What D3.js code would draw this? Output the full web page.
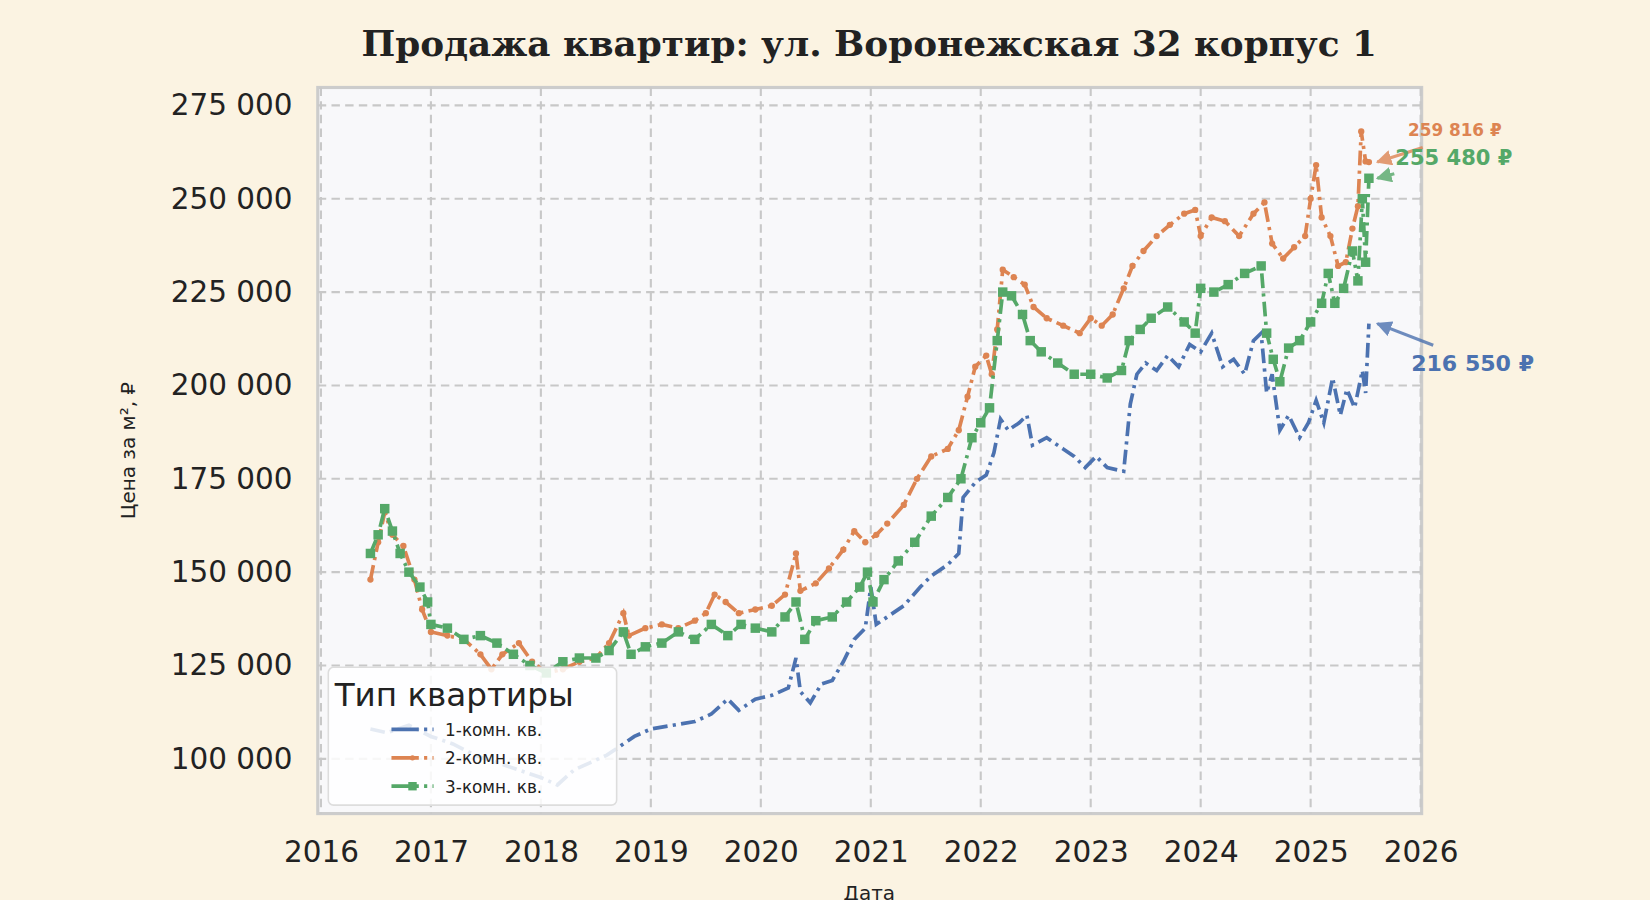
<!DOCTYPE html>
<html><head><meta charset="utf-8">
<script src="https://cdn.jsdelivr.net/npm/d3@7"></script>
<style>body{margin:0;background:#fbf3e2;}svg{display:block;}</style>
</head><body><svg id="c" width="1650" height="900" viewBox="0 0 1568 855"></svg>
<script>
// данные: [год (дробный), цена за м²]
const oneRoom = [[2016.45,108000],[2016.6,107000],[2016.8,109000],[2017.0,106000],[2017.2,104000],[2017.4,101000],[2017.6,99000],[2017.8,97000],[2018.0,95000],[2018.15,93000],[2018.3,97000],[2018.45,99000],[2018.6,101000],[2018.75,104000],[2018.85,106000],[2019.0,108000],[2019.2,109000],[2019.4,110000],[2019.55,112000],[2019.7,116000],[2019.8,113000],[2019.95,116000],[2020.1,117000],[2020.25,119000],[2020.32,127000],[2020.36,118000],[2020.45,115000],[2020.55,120000],[2020.65,121000],[2020.75,126000],[2020.85,132000],[2020.95,135000],[2021.0,146000],[2021.05,136000],[2021.15,138000],[2021.3,141000],[2021.45,146000],[2021.55,149000],[2021.7,152000],[2021.8,155000],[2021.84,170000],[2021.95,174000],[2022.05,176000],[2022.12,182000],[2022.18,191000],[2022.25,188000],[2022.35,190000],[2022.42,192000],[2022.47,184000],[2022.6,186000],[2022.75,183000],[2022.85,181000],[2022.95,178000],[2023.05,181000],[2023.15,178000],[2023.3,177000],[2023.36,195000],[2023.42,203000],[2023.5,206000],[2023.6,204000],[2023.7,208000],[2023.8,205000],[2023.9,211000],[2024.0,209000],[2024.1,214000],[2024.2,205000],[2024.3,207000],[2024.4,203000],[2024.48,212000],[2024.55,214000],[2024.6,198000],[2024.65,203000],[2024.72,188000],[2024.8,192000],[2024.9,186000],[2024.98,190000],[2025.05,196000],[2025.12,190000],[2025.2,202000],[2025.27,192000],[2025.33,199000],[2025.4,194000],[2025.47,204000],[2025.5,198000],[2025.53,216550]];
const twoRoom = [[2016.45,148000],[2016.52,158000],[2016.58,166000],[2016.65,160000],[2016.75,157000],[2016.85,148000],[2016.92,140000],[2017.0,134000],[2017.15,133000],[2017.3,132000],[2017.45,128000],[2017.55,124000],[2017.65,128000],[2017.8,131000],[2017.92,126000],[2018.05,123000],[2018.2,124000],[2018.35,126000],[2018.5,127000],[2018.62,131000],[2018.75,139000],[2018.8,133000],[2018.95,135000],[2019.1,136000],[2019.25,135000],[2019.4,137000],[2019.5,139000],[2019.58,144000],[2019.68,142000],[2019.8,139000],[2019.95,140000],[2020.1,141000],[2020.22,144000],[2020.32,155000],[2020.36,145000],[2020.5,147000],[2020.62,151000],[2020.75,156000],[2020.85,161000],[2020.95,158000],[2021.05,160000],[2021.15,163000],[2021.3,168000],[2021.42,175000],[2021.55,181000],[2021.7,183000],[2021.8,188000],[2021.88,197000],[2021.95,205000],[2022.05,208000],[2022.1,203000],[2022.15,215000],[2022.2,231000],[2022.3,229000],[2022.4,227000],[2022.48,221000],[2022.6,218000],[2022.75,216000],[2022.9,214000],[2023.0,218000],[2023.1,216000],[2023.2,219000],[2023.3,226000],[2023.38,232000],[2023.48,236000],[2023.6,240000],[2023.72,243000],[2023.85,246000],[2023.95,247000],[2024.0,240000],[2024.1,245000],[2024.22,244000],[2024.35,240000],[2024.48,246000],[2024.58,249000],[2024.65,238000],[2024.75,234000],[2024.85,237000],[2024.95,240000],[2025.0,250000],[2025.05,259000],[2025.1,245000],[2025.18,240000],[2025.25,232000],[2025.32,233000],[2025.38,242000],[2025.43,248000],[2025.46,268000],[2025.5,260000],[2025.53,259816]];
const threeRoom = [[2016.45,155000],[2016.52,160000],[2016.58,167000],[2016.65,161000],[2016.72,155000],[2016.8,150000],[2016.9,146000],[2016.97,142000],[2017.0,136000],[2017.15,135000],[2017.3,132000],[2017.45,133000],[2017.6,131000],[2017.75,128000],[2017.9,125000],[2018.05,123000],[2018.2,126000],[2018.35,127000],[2018.5,127000],[2018.62,129000],[2018.75,134000],[2018.82,128000],[2018.95,130000],[2019.1,131000],[2019.25,134000],[2019.4,132000],[2019.55,136000],[2019.7,133000],[2019.82,136000],[2019.95,135000],[2020.1,134000],[2020.22,138000],[2020.32,142000],[2020.4,132000],[2020.5,137000],[2020.65,138000],[2020.78,142000],[2020.9,146000],[2020.97,150000],[2021.02,142000],[2021.12,148000],[2021.25,153000],[2021.4,158000],[2021.55,165000],[2021.7,170000],[2021.82,175000],[2021.92,186000],[2022.0,190000],[2022.08,194000],[2022.15,212000],[2022.2,225000],[2022.28,224000],[2022.38,219000],[2022.45,212000],[2022.55,209000],[2022.7,206000],[2022.85,203000],[2023.0,203000],[2023.15,202000],[2023.28,204000],[2023.35,212000],[2023.45,215000],[2023.55,218000],[2023.7,221000],[2023.85,217000],[2023.95,214000],[2024.0,226000],[2024.12,225000],[2024.25,227000],[2024.4,230000],[2024.55,232000],[2024.6,214000],[2024.66,207000],[2024.72,201000],[2024.8,210000],[2024.9,212000],[2025.0,217000],[2025.1,222000],[2025.16,230000],[2025.22,222000],[2025.3,226000],[2025.38,236000],[2025.43,228000],[2025.47,250000],[2025.5,233000],[2025.53,255480]];

const seriesNames = ['1-комн. кв.', '2-комн. кв.', '3-комн. кв.'];
const seriesColors = ['#4c72b0', '#dd8452', '#55a868'];
const yTicks = [100000, 125000, 150000, 175000, 200000, 225000, 250000, 275000];
const xTicks = [2016, 2017, 2018, 2019, 2020, 2021, 2022, 2023, 2024, 2025, 2026];

const svg = d3.select('#c');
const L = 302, R = 1351, T = 83, B = 773;
const x = d3.scaleLinear().domain([2016, 2026]).range([305, 1350]);
const y = d3.scaleLinear().domain([100000, 275000]).range([721, 100]);
const fmt = v => d3.format(',')(v).replace(/,/g, ' ');

svg.append('rect').attr('width', 1568).attr('height', 855).attr('fill', '#fbf3e2');
svg.append('text').attr('x', 826).attr('y', 53).attr('text-anchor', 'middle')
    .style('font', 'bold 34px "DejaVu Serif"').attr('fill', '#222')
    .text('Продажа квартир: ул. Воронежская 32 корпус 1');

svg.append('rect').attr('x', L).attr('y', T).attr('width', R - L).attr('height', B - T)
    .attr('fill', '#f8f8fa').attr('stroke', '#cccccc').attr('stroke-width', 3);

// сетка
const grid = svg.append('g').attr('stroke', '#c8c8c8').attr('stroke-width', 2).attr('stroke-dasharray', '8,5');
xTicks.forEach(t => grid.append('line').attr('x1', x(t)).attr('x2', x(t)).attr('y1', T).attr('y2', B));
yTicks.forEach(t => grid.append('line').attr('x1', L).attr('x2', R).attr('y1', y(t)).attr('y2', y(t)));

const tickFont = '28px "DejaVu Sans"';
svg.append('g').attr('transform', `translate(0,${B})`)
    .call(d3.axisBottom(x).tickValues(xTicks).tickFormat(d3.format('d')).tickSize(0).tickPadding(26))
    .call(g => g.select('.domain').remove())
    .selectAll('text').style('font', tickFont).attr('fill', '#222');
svg.append('g').attr('transform', `translate(${L},0)`)
    .call(d3.axisLeft(y).tickValues(yTicks).tickFormat(fmt).tickSize(0).tickPadding(24))
    .call(g => g.select('.domain').remove())
    .selectAll('text').style('font', tickFont).attr('fill', '#222');

svg.append('text').attr('x', 826).attr('y', 855).attr('text-anchor', 'middle')
    .style('font', '19px "DejaVu Sans"').attr('fill', '#222').text('Дата');
svg.append('text').attr('transform', 'translate(128,428) rotate(-90)').attr('text-anchor', 'middle')
    .style('font', '19px "DejaVu Sans"').attr('fill', '#222').text('Цена за м², ₽');

svg.append('clipPath').attr('id', 'pc').append('rect')
    .attr('x', L).attr('y', T).attr('width', R - L).attr('height', B - T);
const plot = svg.append('g').attr('clip-path', 'url(#pc)');
const line = d3.line().x(d => x(d[0])).y(d => y(d[1]));

const allSeries = [oneRoom, twoRoom, threeRoom];
allSeries.forEach((data, i) => {
    plot.append('path').datum(data).attr('d', line).attr('fill', 'none')
        .attr('stroke', seriesColors[i]).attr('stroke-width', 3.5)
        .attr('stroke-dasharray', '14,5,3,5');
    if (i === 1) {
        plot.selectAll('.m2').data(data).join('circle')
            .attr('cx', d => x(d[0])).attr('cy', d => y(d[1])).attr('r', 3).attr('fill', seriesColors[i]);
    }
    if (i === 2) {
        plot.selectAll('.m3').data(data).join('rect')
            .attr('x', d => x(d[0]) - 4.5).attr('y', d => y(d[1]) - 4.5).attr('width', 9).attr('height', 9)
            .attr('fill', seriesColors[i]);
    }
});

// подписи последних значений
const notes = [
    { s: oneRoom, tx: 1341, ty: 352, ax: 1362, ay: 328, size: 21 },
    { s: twoRoom, tx: 1338, ty: 129, ax: 1352, ay: 140, size: 16 },
    { s: threeRoom, tx: 1326, ty: 157, ax: 1325, ay: 165, size: 20 }
];
svg.append('defs').selectAll('marker').data(seriesColors).join('marker')
    .attr('id', (d, i) => 'ar' + i).attr('viewBox', '0 0 10 10').attr('refX', 9).attr('refY', 5)
    .attr('markerWidth', 5).attr('markerHeight', 5).attr('orient', 'auto')
    .append('path').attr('d', 'M0,0L10,5L0,10z').attr('fill', d => d);
notes.forEach((n, i) => {
    const last = n.s[n.s.length - 1];
    svg.append('line').attr('x1', n.ax).attr('y1', n.ay).attr('x2', x(last[0]) + 8).attr('y2', y(last[1]))
        .attr('stroke', seriesColors[i]).attr('stroke-width', 3).attr('opacity', 0.8)
        .attr('marker-end', `url(#ar${i})`);
    svg.append('text').attr('x', n.tx).attr('y', n.ty).style('font', `bold ${n.size}px "DejaVu Sans"`)
        .attr('fill', seriesColors[i]).text(fmt(last[1]) + ' ₽');
});

// легенда
const lg = svg.append('g');
lg.append('rect').attr('x', 312).attr('y', 634).attr('width', 274).attr('height', 131).attr('rx', 5)
    .attr('fill', '#fff').attr('fill-opacity', 0.85).attr('stroke', '#ddd').attr('stroke-width', 1.5);
lg.append('text').attr('x', 318).attr('y', 671).style('font', '31px "DejaVu Sans"').attr('fill', '#222').text('Тип квартиры');
seriesNames.forEach((name, i) => {
    const ly = 693 + i * 27;
    lg.append('line').attr('x1', 372).attr('x2', 412).attr('y1', ly).attr('y2', ly)
        .attr('stroke', seriesColors[i]).attr('stroke-width', 3.5).attr('stroke-dasharray', '26,5,3,5');
    if (i === 1) lg.append('circle').attr('cx', 392).attr('cy', ly).attr('r', 2.5).attr('fill', seriesColors[i]);
    if (i === 2) lg.append('rect').attr('x', 388).attr('y', ly - 4).attr('width', 8).attr('height', 8).attr('fill', seriesColors[i]);
    lg.append('text').attr('x', 423).attr('y', ly + 6).style('font', '16px "DejaVu Sans"').attr('fill', '#222').text(name);
});
</script></body></html>
